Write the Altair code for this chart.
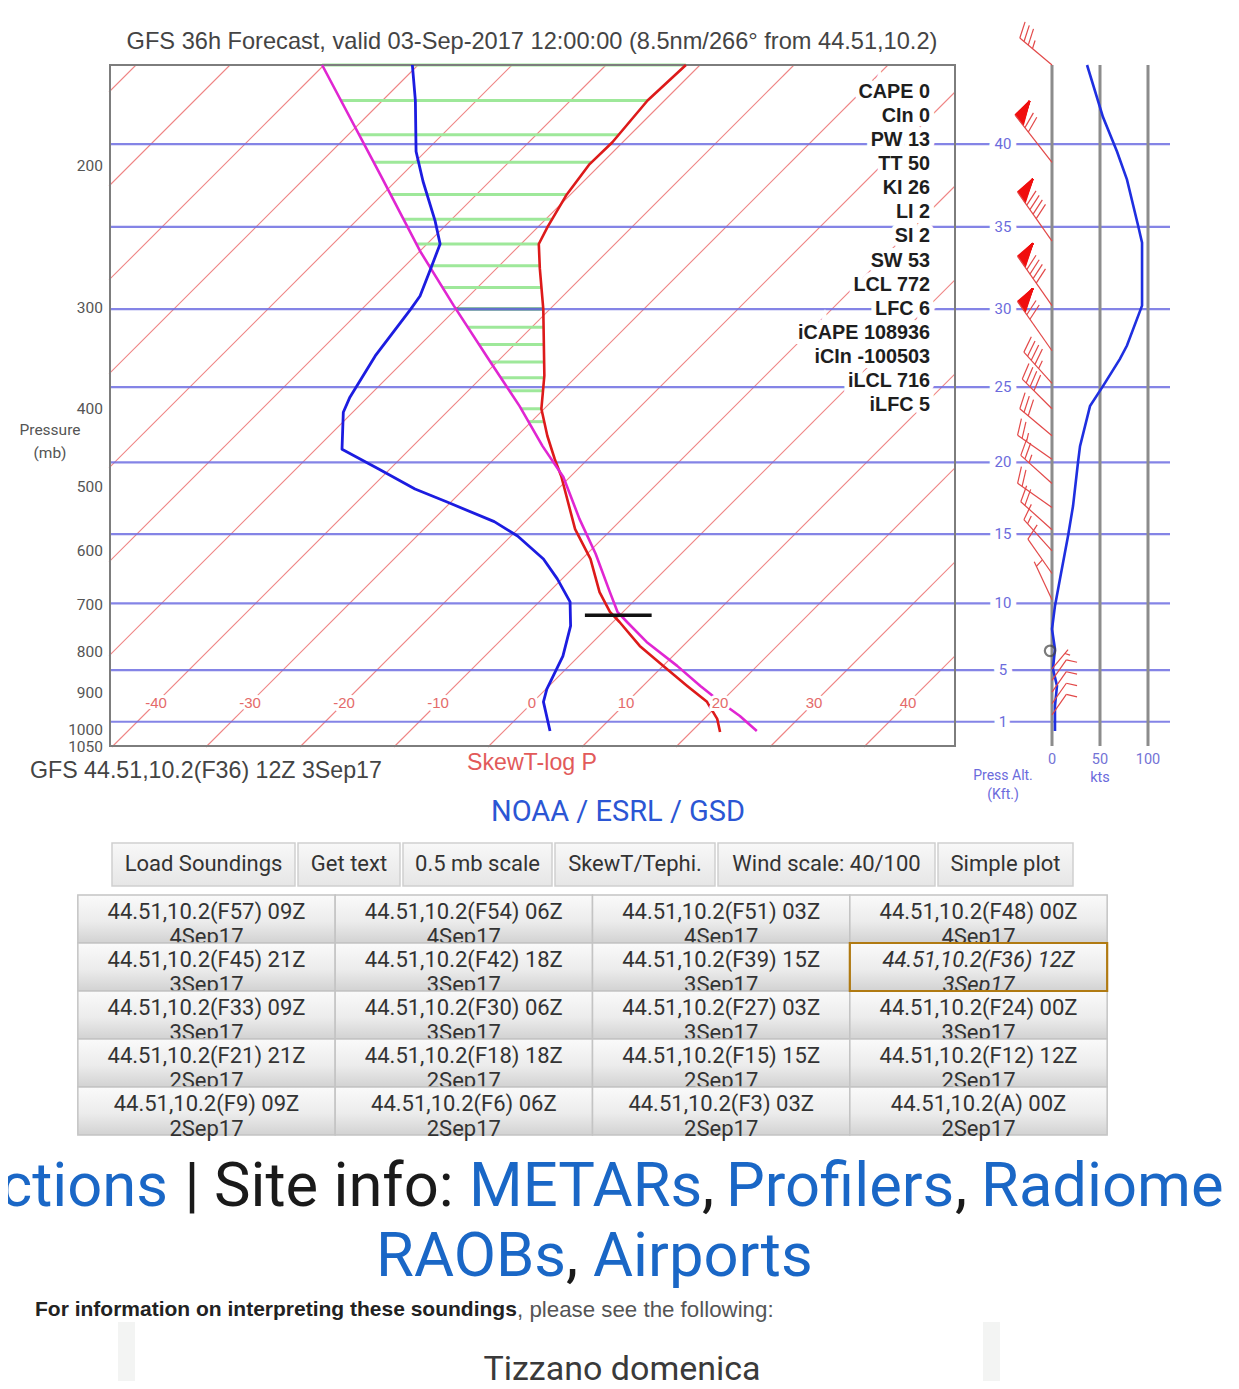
import altair as alt
import numpy as np
import pandas as pd

# ------------------------------------------------------------------ data
# environmental temperature (red), deg C at pressure (mb)
temp_p = [150, 166, 187, 199, 217, 238, 250, 268, 301, 364, 400, 432, 462, 485,
          564, 614, 675, 714, 735, 787, 833, 882, 923, 969, 1006]
temp_t = [-51.5, -51.8, -51.1, -51.2, -50.4, -49.0, -48.1, -45.4, -40.7, -33.5,
          -30.3, -26.8, -23.5, -21.0, -13.9, -9.1, -4.6, -1.4, 0.7, 5.4, 10.0,
          14.7, 18.5, 21.4, 23.1]
# dew point (blue)
dew_p = [150, 166, 192, 209, 234, 250, 268, 290, 301, 344, 387, 404, 449, 475,
         503, 522, 552, 575, 614, 650, 694, 743, 810, 890, 923, 1003]
dew_t = [-80.6, -76.5, -71.0, -67.1, -61.6, -58.6, -57.0, -55.2, -54.8, -53.6,
         -51.9, -51.0, -47.2, -41.2, -35.2, -30.4, -23.3, -19.3, -14.1, -10.5,
         -6.7, -4.1, -1.7, 0.1, 1.1, 4.9]
# lifted parcel (magenta)
parcel_p = [150, 206, 255, 298, 350, 397, 445, 486, 548, 605, 675, 714, 735,
            778, 833, 882, 923, 961, 1003]
parcel_t = [-90.2, -72.1, -60.0, -50.6, -40.7, -32.9, -26.2, -20.7, -14.5, -9.1,
            -3.5, -0.6, 1.5, 5.7, 11.5, 16.1, 19.9, 23.5, 26.9]
# hatch levels between parcel and environment
hatch_p = [150, 166, 183, 198, 217, 233, 250, 266, 283, 317, 333, 350, 366, 380, 400, 415]
hatch_dark_p = [301]
# LCL marker
lcl_p = [721]
lcl_t0 = [-3.7]
lcl_t1 = [3.4]
# isotherms and labels
iso_t = list(range(-120, 51, 10))
temp_labels = [-40, -30, -20, -10, 0, 10, 20, 30, 40]
pres_labels = [200, 300, 400, 500, 600, 700, 800, 900, 1000, 1050]
# pressure-altitude reference lines (kft)
alt_kft = [1, 5, 10, 15, 20, 25, 30, 35, 40]
alt_p = [977, 843, 697, 572, 466, 376, 301, 238, 188]
# wind speed profile (kts)
wspd_p = [150, 174, 192, 208, 237, 249, 298, 334, 347, 375, 397, 445, 466, 528,
          575, 650, 702, 750, 794, 840, 882, 934, 1003]
wspd_kt = [36.5, 53.1, 67.7, 78.1, 89.6, 93.8, 93.8, 78.1, 70.8, 53.1, 39.6, 29.2,
           27.1, 21.9, 16.7, 8.3, 3.1, 0, 3.1, 1.0, 5.2, 3.1, 3.1]
speed_ticks = [0, 50, 100]
# wind barbs
barb_p = [150, 198, 248, 298, 339, 372, 400, 432, 462, 495, 530, 565, 600, 640, 690,
          840, 868, 898, 928, 958]
barb_dir = [310, 322, 325, 325, 325, 318, 315, 310, 305, 312, 305, 312, 318, 325, 335,
            40, 35, 35, 35, 35]
barb_spd = [35, 70, 90, 90, 70, 45, 40, 30, 25, 25, 20, 20, 15, 10, 5,
            5, 10, 10, 10, 10]
calm_p = [798]

stats = ["CAPE 0", "CIn 0", "PW 13", "TT 50", "KI 26", "LI 2", "SI 2", "SW 53",
         "LCL 772", "LFC 6", "iCAPE 108936", "iCIn -100503", "iLCL 716", "iLFC 5"]

top_buttons = ["Load Soundings", "Get text", "0.5 mb scale", "SkewT/Tephi.",
               "Wind scale: 40/100", "Simple plot"]
grid_runs = ["F57", "F54", "F51", "F48", "F45", "F42", "F39", "F36", "F33", "F30",
             "F27", "F24", "F21", "F18", "F15", "F12", "F9", "F6", "F3", "A"]
grid_hours = ["09Z", "06Z", "03Z", "00Z", "21Z", "18Z", "15Z", "12Z", "09Z", "06Z",
              "03Z", "00Z", "21Z", "18Z", "15Z", "12Z", "09Z", "06Z", "03Z", "00Z"]
grid_dates = ["4Sep17"] * 4 + ["3Sep17"] * 8 + ["2Sep17"] * 8
selected_run = "F36"

# ------------------------------------------------------------------ layout
OX = OY = 8
W, H = 1223, 1373
FONT = "Roboto"
CFONT = "Liberation Sans"


def px(x):
    return x - OX


def py(y):
    return y - OY


K = 37.29     # skew (deg C of x-shift per unit ln p)
P0 = 925.9    # pressure at which skewed x equals temperature

SX = alt.Scale(domain=[-45, 45], range=[px(109), px(955)], nice=False, zero=False)
SY = alt.Scale(type="log", domain=[150, 1050], range=[py(65), py(747)], nice=False)
WX = alt.Scale(domain=[0, 100], range=[px(1052), px(1148)], nice=False, zero=False)

ONE = pd.DataFrame({"_": [0]})
layers = []


def label(text, x, y, size, color, align="left", weight="normal", style="normal",
          font=FONT, baseline="middle"):
    return alt.Chart(ONE).mark_text(
        text=text, align=align, baseline=baseline, fontSize=size, fontWeight=weight,
        fontStyle=style, font=font, color=color
    ).encode(x=alt.value(px(x)), y=alt.value(py(y)))


def skew(field):
    return f"datum.t + {K} * log({P0} / datum.{field})"


# ---------------- isotherms
rows = []
for T in iso_t:
    p_bot = min(1050.0, P0 * np.exp((T + 45) / K))
    p_top = max(150.0, P0 * np.exp((T - 45) / K))
    if p_bot > p_top:
        rows.append(dict(t=T, p1=p_bot, p2=p_top))
iso = pd.DataFrame(rows)
layers.append(
    alt.Chart(iso).transform_calculate(x1=skew("p1"), x2=skew("p2"))
    .mark_rule(color="#ef8585", strokeWidth=1.1)
    .encode(x=alt.X("x1:Q", scale=SX, axis=None), x2="x2:Q",
            y=alt.Y("p1:Q", scale=SY, axis=None), y2="p2:Q")
)

# ---------------- hatch between parcel and environment
def hatch_layer(levels, color, width):
    lp = np.log(levels)
    tl = np.interp(lp, np.log(parcel_p), parcel_t)
    tr = np.interp(lp, np.log(temp_p), temp_t)
    df = pd.DataFrame({"p": levels, "tl": tl, "tr": tr})
    return (alt.Chart(df)
            .transform_calculate(xl=f"datum.tl + {K} * log({P0} / datum.p)",
                                 xr=f"datum.tr + {K} * log({P0} / datum.p)")
            .mark_rule(color=color, strokeWidth=width)
            .encode(x=alt.X("xl:Q", scale=SX, axis=None), x2="xr:Q",
                    y=alt.Y("p:Q", scale=SY, axis=None)))


layers.append(hatch_layer(hatch_p, "#9ee89a", 3))
layers.append(hatch_layer(hatch_dark_p, "#1f7a55", 3))

# ---------------- pressure altitude lines
alt_df = pd.DataFrame({"p": alt_p, "k": [str(v) for v in alt_kft]})
layers.append(
    alt.Chart(alt_df).mark_rule(color="#6e6ee2", strokeWidth=2.2, opacity=0.85)
    .encode(x=alt.value(px(110)), x2=alt.value(px(1170)),
            y=alt.Y("p:Q", scale=SY, axis=None))
)

# ---------------- frame
layers.append(
    alt.Chart(ONE).mark_rect(fillOpacity=0, stroke="#7d7d7d", strokeWidth=2)
    .encode(x=alt.value(px(110)), x2=alt.value(px(955)),
            y=alt.value(py(65)), y2=alt.value(py(746)))
)

# ---------------- wind panel verticals
layers.append(
    alt.Chart(pd.DataFrame({"k": speed_ticks})).mark_rule(color="#8c8c8c", strokeWidth=3)
    .encode(x=alt.X("k:Q", scale=WX, axis=None), y=alt.value(py(65)), y2=alt.value(py(746)))
)

# ---------------- profiles
def prof(ps, ts, color, width):
    df = pd.DataFrame({"p": ps, "t": ts, "i": list(range(len(ps)))})
    return (alt.Chart(df).transform_calculate(xs=skew("p"))
            .mark_line(color=color, strokeWidth=width, strokeJoin="round")
            .encode(x=alt.X("xs:Q", scale=SX, axis=None),
                    y=alt.Y("p:Q", scale=SY, axis=None), order="i:Q"))


layers.append(prof(temp_p, temp_t, "#dd1a1a", 2.6))
layers.append(prof(parcel_p, parcel_t, "#e026d2", 2.6))
layers.append(prof(dew_p, dew_t, "#1c1ce0", 2.8))

# ---------------- LCL marker
lcl_df = pd.DataFrame({"p": lcl_p, "t0": lcl_t0, "t1": lcl_t1})
layers.append(
    alt.Chart(lcl_df)
    .transform_calculate(a=f"datum.t0 + {K} * log({P0} / datum.p)",
                         b=f"datum.t1 + {K} * log({P0} / datum.p)")
    .mark_rule(color="#111111", strokeWidth=3.5)
    .encode(x=alt.X("a:Q", scale=SX, axis=None), x2="b:Q",
            y=alt.Y("p:Q", scale=SY, axis=None))
)

# ---------------- temperature labels (with halo)
tl_df = pd.DataFrame({"t": temp_labels, "p": [P0] * len(temp_labels),
                      "s": [str(v) for v in temp_labels]})
for halo in (True, False):
    mk = dict(fontSize=15, font=CFONT, align="center", baseline="middle")
    if halo:
        mk.update(fill="white", stroke="white", strokeWidth=6)
    else:
        mk.update(color="#e46a6a")
    layers.append(
        alt.Chart(tl_df).transform_calculate(xs=skew("p")).mark_text(**mk)
        .encode(x=alt.X("xs:Q", scale=SX, axis=None),
                y=alt.Y("p:Q", scale=SY, axis=None), text="s:N")
    )

# ---------------- pressure labels
pl_df = pd.DataFrame({"p": pres_labels, "s": [str(v) for v in pres_labels]})
layers.append(
    alt.Chart(pl_df).mark_text(fontSize=15.5, font=FONT, align="right", baseline="middle",
                               color="#555555")
    .encode(x=alt.value(px(103)), y=alt.Y("p:Q", scale=SY, axis=None), text="s:N")
)

# ---------------- stats labels (with halo)
st_df = pd.DataFrame({"s": stats, "i": list(range(len(stats)))})
SI = alt.Scale(domain=[0, len(stats) - 1], range=[py(92), py(405)], nice=False, zero=False)
for halo in (True, False):
    mk = dict(fontSize=19.8, font=CFONT, fontWeight="bold", align="right", baseline="middle")
    if halo:
        mk.update(fill="white", stroke="white", strokeWidth=10)
    else:
        mk.update(color="#1e1e1e")
    layers.append(
        alt.Chart(st_df).mark_text(**mk)
        .encode(x=alt.value(px(930)), y=alt.Y("i:Q", scale=SI, axis=None), text="s:N")
    )

# ---------------- altitude labels (with halo)
for halo in (True, False):
    mk = dict(fontSize=15, font=FONT, align="center", baseline="middle")
    if halo:
        mk.update(fill="white", stroke="white", strokeWidth=11)
    else:
        mk.update(color="#6b6bdc")
    layers.append(
        alt.Chart(alt_df).mark_text(**mk)
        .encode(x=alt.value(px(1003)), y=alt.Y("p:Q", scale=SY, axis=None), text="k:N")
    )

# ---------------- wind speed profile
ws_df = pd.DataFrame({"p": wspd_p, "k": wspd_kt, "i": list(range(len(wspd_p)))})
layers.append(
    alt.Chart(ws_df).mark_line(color="#1f2fe0", strokeWidth=2.6)
    .encode(x=alt.X("k:Q", scale=WX, axis=None), y=alt.Y("p:Q", scale=SY, axis=None),
            order="i:Q")
)

# ---------------- wind barbs (geometry built from speed/direction)
PXKT = 0.96
PXLNP = 350.5
seg_rows, pen_rows = [], []
for p, d, s in zip(barb_p, barb_dir, barb_spd):
    th = np.radians(d)
    ux, uy = np.sin(th), -np.cos(th)
    east = ux > 0
    if east:
        L, FL = 25, 11
    else:
        L, FL = (60 if s >= 50 else 42), 17
    fx, fy = -uy, ux
    a = np.radians(22)
    gx, gy = fx * np.cos(a) + ux * np.sin(a), fy * np.cos(a) + uy * np.sin(a)

    def to_data(dx, dy, p=p):
        return dx / PXKT, p * np.exp(dy / PXLNP)

    def seg(x0, y0, x1, y1, rows):
        a0, b0 = to_data(x0, y0)
        a1, b1 = to_data(x1, y1)
        rows.append(dict(x=a0, p=b0, x2=a1, p2=b1))

    seg(0, 0, L * ux, L * uy, seg_rows)
    rem = int(round(s / 5.0)) * 5
    n50, rem = divmod(rem, 50)
    n10, rem = divmod(rem, 10)
    n5 = 1 if rem >= 5 else 0
    pos = L
    for _ in range(n50):
        ax, ay = (pos + 2) * ux + 20 * fx, (pos + 2) * uy + 20 * fy
        for q in np.linspace(0, 13, 18):
            bx, by = (pos - q) * ux, (pos - q) * uy
            seg(ax, ay, bx, by, pen_rows)
        pos -= 16
    for _ in range(n10):
        seg(pos * ux, pos * uy, pos * ux + FL * gx, pos * uy + FL * gy, seg_rows)
        pos -= 5.5
    if n5:
        if n50 == 0 and n10 == 0:
            pos -= 5
        seg(pos * ux, pos * uy, pos * ux + FL / 2 * gx, pos * uy + FL / 2 * gy, seg_rows)

seg_df = pd.DataFrame(seg_rows)
pen_df = pd.DataFrame(pen_rows)
layers.append(
    alt.Chart(pen_df).mark_rule(color="#f01010", strokeWidth=1.6)
    .encode(x=alt.X("x:Q", scale=WX, axis=None), x2="x2:Q",
            y=alt.Y("p:Q", scale=SY, axis=None), y2="p2:Q")
)
layers.append(
    alt.Chart(seg_df).mark_rule(color="#e24848", strokeWidth=1.2)
    .encode(x=alt.X("x:Q", scale=WX, axis=None), x2="x2:Q",
            y=alt.Y("p:Q", scale=SY, axis=None), y2="p2:Q")
)
layers.append(
    alt.Chart(pd.DataFrame({"p": calm_p, "k": [-2]})).mark_point(
        shape="circle", size=110, filled=False, color="#444444", strokeWidth=2.2)
    .encode(x=alt.X("k:Q", scale=WX, axis=None), y=alt.Y("p:Q", scale=SY, axis=None))
)

# speed tick labels
layers.append(
    alt.Chart(pd.DataFrame({"k": speed_ticks, "s": [str(v) for v in speed_ticks]}))
    .mark_text(fontSize=14.5, font=FONT, align="center", baseline="middle", color="#7373d6")
    .encode(x=alt.X("k:Q", scale=WX, axis=None), y=alt.value(py(760)), text="s:N")
)

# ---------------- chart texts
layers += [
    label("GFS 36h Forecast, valid 03-Sep-2017 12:00:00 (8.5nm/266\u00b0 from 44.51,10.2)",
          532, 42, 23.6, "#444444", align="center", font=CFONT),
    label("Pressure", 50, 430, 15.5, "#555555", align="center"),
    label("(mb)", 50, 453, 15.5, "#555555", align="center"),
    label("GFS 44.51,10.2(F36) 12Z 3Sep17", 30, 771, 23.2, "#444444", font=CFONT),
    label("SkewT-log P", 532, 763, 23.2, "#e25a5a", align="center", font=CFONT),
    label("NOAA / ESRL / GSD", 618, 812, 29, "#2b56d4", align="center"),
    label("Press Alt.", 1003, 776, 14, "#6b6bdc", align="center"),
    label("(Kft.)", 1003, 795, 14, "#6b6bdc", align="center"),
    label("kts", 1100, 778, 14.5, "#6b6bdc", align="center"),
]

# ---------------- top button row
grad_top = alt.LinearGradient(
    gradient="linear", x1=0, x2=0, y1=0, y2=1,
    stops=[alt.GradientStop(color="#f8f8f8", offset=0),
           alt.GradientStop(color="#e6e6e6", offset=1)])
top_edges = [(112, 295), (298, 400), (403, 552), (555, 715), (718, 935), (938, 1073)]
for txt, (x0, x1) in zip(top_buttons, top_edges):
    layers.append(
        alt.Chart(ONE).mark_rect(fill=grad_top, stroke="#cfcfcf", strokeWidth=1.5)
        .encode(x=alt.value(px(x0)), x2=alt.value(px(x1)),
                y=alt.value(py(843)), y2=alt.value(py(886)))
    )
    layers.append(label(txt, (x0 + x1) / 2, 864, 22, "#333333", align="center"))

# ---------------- forecast grid buttons
grad_btn = alt.LinearGradient(
    gradient="linear", x1=0, x2=0, y1=0, y2=1,
    stops=[alt.GradientStop(color="#fafafa", offset=0),
           alt.GradientStop(color="#ececec", offset=0.55),
           alt.GradientStop(color="#d2d2d2", offset=1)])
grid = pd.DataFrame({
    "l1": [f"44.51,10.2({r}) {h}" for r, h in zip(grid_runs, grid_hours)],
    "l2": grid_dates,
    "col": [i % 4 for i in range(20)],
    "row": [i // 4 for i in range(20)],
    "sel": [r == selected_run for r in grid_runs],
})
grid["c0"] = grid["col"] - 0.5
grid["c1"] = grid["col"] + 0.5
grid["r0"] = grid["row"] - 0.5
grid["r1"] = grid["row"] + 0.5
GC = alt.Scale(domain=[0, 3], range=[px(206.5), px(978.5)], nice=False, zero=False)
GR = alt.Scale(domain=[0, 4], range=[py(919), py(1111)], nice=False, zero=False)
for r in range(5):
    sub = grid[grid["row"] == r]
    layers.append(
        alt.Chart(sub).mark_rect(fill=grad_btn, stroke="#c4c4c4", strokeWidth=1.5)
        .encode(x=alt.X("c0:Q", scale=GC, axis=None), x2="c1:Q",
                y=alt.Y("r0:Q", scale=GR, axis=None), y2="r1:Q")
    )
    for fld, dy in (("l1", -7), ("l2", 18)):
        for sel in (False, True):
            part = sub[sub["sel"] == sel]
            if len(part) == 0:
                continue
            layers.append(
                alt.Chart(part).mark_text(
                    fontSize=22, font=FONT, align="center", baseline="middle",
                    color="#333333", dy=dy, fontStyle="italic" if sel else "normal")
                .encode(x=alt.X("col:Q", scale=GC, axis=None),
                        y=alt.Y("row:Q", scale=GR, axis=None), text=f"{fld}:N")
            )
sel_df = grid[grid["sel"]]
layers.append(
    alt.Chart(sel_df).mark_rect(fillOpacity=0, stroke="#b07a12", strokeWidth=2.2)
    .encode(x=alt.X("c0:Q", scale=GC, axis=None), x2="c1:Q",
            y=alt.Y("r0:Q", scale=GR, axis=None), y2="r1:Q")
)

# ---------------- page text below
BLUE = "#1a67c6"
BLACK = "#1a1a1a"
big = 61.5
layers += [
    label("ctions", 168, 1188, big, BLUE, align="right"),
    label("|", 192, 1188, big, BLACK, align="center"),
    label("Site info:", 214, 1188, big, BLACK),
    label("METARs", 469, 1188, big, BLUE),
    label(",", 702, 1188, big, BLACK),
    label("Profilers", 726, 1188, big, BLUE),
    label(",", 955, 1188, big, BLACK),
    label("Radiome", 981, 1188, big, BLUE),
    label("RAOBs", 376, 1258, big, BLUE),
    label(",", 566, 1258, big, BLACK),
    label("Airports", 593, 1258, big, BLUE),
    label("For information on interpreting these soundings", 35, 1310, 21, "#222222",
          weight="bold", font=CFONT),
    label(", please see the following:", 517, 1310, 22.3, "#555555", font=CFONT),
]
for x0, x1 in ((118, 135), (983, 1000)):
    layers.append(
        alt.Chart(ONE).mark_rect(color="#f3f4f3")
        .encode(x=alt.value(px(x0)), x2=alt.value(px(x1)),
                y=alt.value(py(1322)), y2=alt.value(py(1389)))
    )
layers.append(label("Tizzano domenica", 622, 1380, 34, "#3a3a3a", align="center",
                    baseline="alphabetic"))

chart = (
    alt.layer(*layers)
    .resolve_scale(x="independent", y="independent")
    .properties(width=W, height=H, autosize=alt.AutoSizeParams(type="none"), padding=0)
    .configure_view(strokeOpacity=0)
)
chart.save("out.html", embed_options={"renderer": "svg", "actions": False})
